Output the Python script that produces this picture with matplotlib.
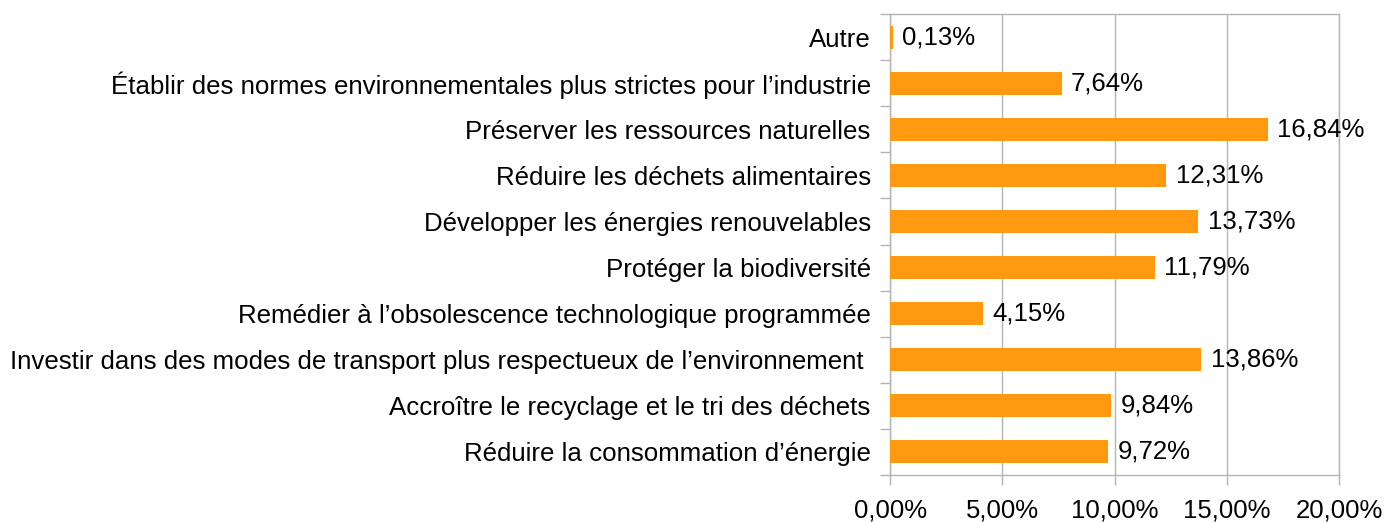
import matplotlib.pyplot as plt
from matplotlib.ticker import FixedLocator, FuncFormatter

plt.rcParams['font.family'] = ['Liberation Sans', 'DejaVu Sans']

categories = [
    "Réduire la consommation d’énergie",
    "Accroître le recyclage et le tri des déchets",
    "Investir dans des modes de transport plus respectueux de l’environnement ",
    "Remédier à l’obsolescence technologique programmée",
    "Protéger la biodiversité",
    "Développer les énergies renouvelables",
    "Réduire les déchets alimentaires",
    "Préserver les ressources naturelles",
    "Établir des normes environnementales plus strictes pour l’industrie",
    "Autre",
]
values = [9.72, 9.84, 13.86, 4.15, 11.79, 13.73, 12.31, 16.84, 7.64, 0.13]
x_ticks = [0, 5, 10, 15, 20]

bar_color = '#FF9912'
grid_color = '#B3B3B3'


def pct(v, _=None):
    return f"{v:.2f}%".replace('.', ',')


fig = plt.figure(figsize=(13.89, 5.22), dpi=100)
ax = fig.add_axes([0.6408, 0.0900, 0.3232, 0.8832])

y = list(range(len(categories)))
ax.barh(y, values, height=0.5, color=bar_color, zorder=3)

for yi, v in zip(y, values):
    ax.text(v + 0.42, yi, pct(v), va='center', ha='left', fontsize=18.5, color='black', zorder=4)

ax.set_xlim(0, 20)
ax.set_ylim(-0.5, len(categories) - 0.5)

ax.set_xticks(x_ticks)
ax.xaxis.set_major_formatter(FuncFormatter(pct))
ax.set_yticks(y)
ax.set_yticklabels(categories)
ax.yaxis.set_minor_locator(FixedLocator([i - 0.5 for i in range(len(categories) + 1)]))

ax.tick_params(axis='y', which='major', length=0, pad=14, labelsize=18.6)
ax.tick_params(axis='y', which='minor', length=7.2, width=1, color=grid_color)
ax.tick_params(axis='x', which='major', length=7.2, width=1, color=grid_color, pad=10, labelsize=18.5)

ax.grid(True, axis='x', color=grid_color, linewidth=1, zorder=0)
for spine in ax.spines.values():
    spine.set_color(grid_color)
    spine.set_linewidth(1)

fig.savefig('out.png', dpi=100)
